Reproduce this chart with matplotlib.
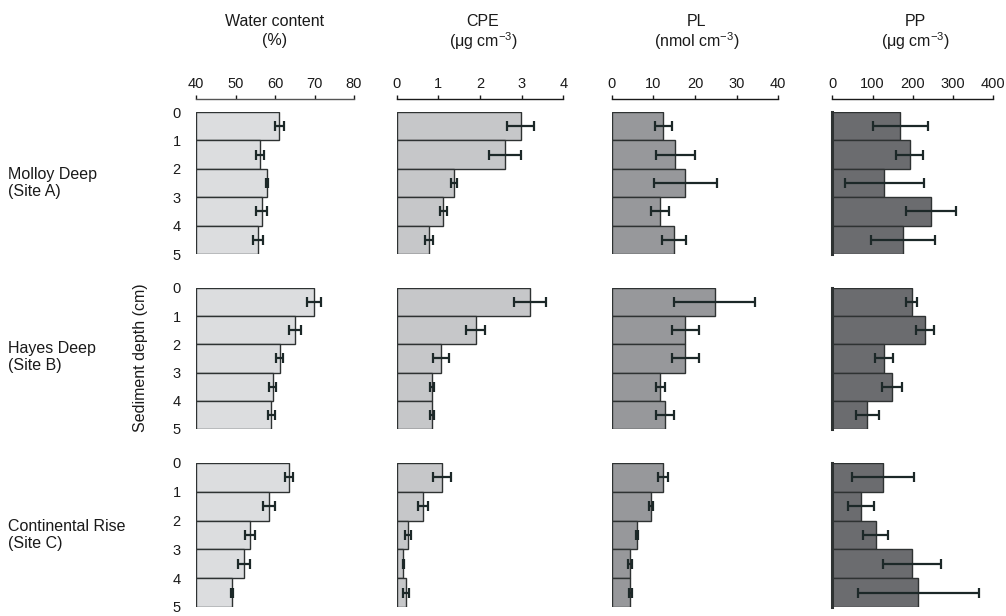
import numpy as np
import matplotlib
matplotlib.use("Agg")
import matplotlib.pyplot as plt

plt.rcParams['font.family'] = ['Liberation Sans', 'DejaVu Sans']
plt.rcParams['mathtext.fontset'] = 'custom'
plt.rcParams['mathtext.rm'] = 'Liberation Sans'

sites = ["Molloy Deep\n(Site A)", "Hayes Deep\n(Site B)", "Continental Rise\n(Site C)"]
depth_ticks = [0, 1, 2, 3, 4, 5]

titles = ["Water content", "CPE", "PL", "PP"]
units = ["(%)", "(\u03bcg cm$^{\\mathregular{-3}}$)",
         "(nmol cm$^{\\mathregular{-3}}$)", "(\u03bcg cm$^{\\mathregular{-3}}$)"]
xlims = [(40, 80), (0, 4), (0, 40), (0, 400)]
xticks = [[40, 50, 60, 70, 80], [0, 1, 2, 3, 4], [0, 10, 20, 30, 40], [0, 100, 200, 300, 400]]

# values per site (rows) for each layer 0-1 ... 4-5 cm
water = [[61.1, 56.3, 57.9, 56.6, 55.7],
         [69.8, 65.1, 61.2, 59.4, 59.1],
         [63.6, 58.5, 53.7, 52.2, 49.1]]
water_err = [[1.2, 1.0, 0.3, 1.3, 1.3],
             [1.8, 1.5, 0.9, 0.8, 0.8],
             [1.0, 1.5, 1.3, 1.5, 0.3]]
cpe = [[2.98, 2.60, 1.37, 1.12, 0.77],
       [3.20, 1.90, 1.07, 0.85, 0.85],
       [1.09, 0.63, 0.28, 0.16, 0.22]]
cpe_err = [[0.32, 0.39, 0.07, 0.09, 0.10],
           [0.38, 0.23, 0.19, 0.05, 0.05],
           [0.21, 0.12, 0.07, 0.01, 0.07]]
pl = [[12.4, 15.3, 17.7, 11.6, 15.0],
      [24.7, 17.7, 17.7, 11.7, 12.8],
      [12.3, 9.5, 6.1, 4.4, 4.5]]
pl_err = [[2.0, 4.6, 7.5, 2.2, 2.9],
          [9.7, 3.2, 3.3, 1.15, 2.2],
          [1.3, 0.5, 0.3, 0.55, 0.3]]
pp = [[169, 192, 129, 245, 176],
      [197, 231, 129, 149, 87],
      [127, 71, 108, 198, 214]]
pp_err = [[69, 33, 98, 62, 79],
          [14.5, 22, 22, 25, 28],
          [77, 33, 31, 72, 151]]

data = [water, cpe, pl, pp]
errs = [water_err, cpe_err, pl_err, pp_err]
colors = ["#dcdddf", "#c6c7c9", "#97989b", "#6b6c6f"]
edge = "#2e3232"
ecol = "#1c2828"

W, H = 1006, 616
fig = plt.figure(figsize=(W / 100, H / 100), dpi=100)

col_x = [(196, 354), (396.7, 563.3), (611.7, 778.3), (832.3, 993.3)]
row_y = [(112, 254), (288, 429), (463, 607)]

for r in range(3):
    for c in range(4):
        x0, x1 = col_x[c]
        y0, y1 = row_y[r]
        ax = fig.add_axes([x0 / W, 1 - y1 / H, (x1 - x0) / W, (y1 - y0) / H])
        vals = np.array(data[c][r])
        er = np.array(errs[c][r])
        mids = np.arange(len(vals)) + 0.5
        base = xlims[c][0]
        ax.barh(mids, vals - base, left=base, height=1.0, color=colors[c],
                edgecolor=edge, linewidth=1.0)
        ax.errorbar(vals, mids, xerr=er, fmt='none', ecolor=ecol,
                    elinewidth=1.6, capsize=3.5, capthick=1.6)
        ax.set_xlim(*xlims[c])
        ax.set_ylim(5, 0)
        for s in ['right', 'bottom']:
            ax.spines[s].set_visible(False)
        if c == 3:
            ax.spines['left'].set_linewidth(2.2)
            ax.spines['left'].set_color(edge)
        else:
            ax.spines['left'].set_visible(False)
        if r == 0:
            ax.spines['top'].set_position(('outward', 9.4))
            ax.spines['top'].set_color('#555555' if c == 0 else '#1a1a1a')
            ax.spines['top'].set_linewidth(1.0)
            ax.xaxis.tick_top()
            ax.set_xticks(xticks[c])
            ax.tick_params(axis='x', direction='out', length=3, width=1,
                           labelsize=10.5, pad=3, colors='#1a1a1a')
        else:
            ax.spines['top'].set_visible(False)
            ax.set_xticks([])
        if c == 0:
            ax.set_yticks(depth_ticks)
            ax.tick_params(axis='y', length=0, pad=11, labelsize=10.5,
                           colors='#1a1a1a')
        else:
            ax.set_yticks([])

title_x = [275, 483, 697, 915]
for c in range(4):
    fig.text(title_x[c] / W, 1 - 21 / H, titles[c], ha='center', va='center',
             fontsize=11.5, color='#1a1a1a')
    fig.text(title_x[c] / W, 1 - 41 / H, units[c], ha='center', va='center',
             fontsize=11.5, color='#1a1a1a')

site_y = [183, 357, 535]
for r in range(3):
    fig.text(8 / W, 1 - site_y[r] / H, sites[r], ha='left', va='center',
             fontsize=11.5, color='#1a1a1a', linespacing=1.15)

fig.text(141 / W, 1 - 358 / H, "Sediment depth (cm)", rotation=90,
         ha='center', va='center', fontsize=11.5, color='#1a1a1a')

fig.savefig("out.png", dpi=100)
